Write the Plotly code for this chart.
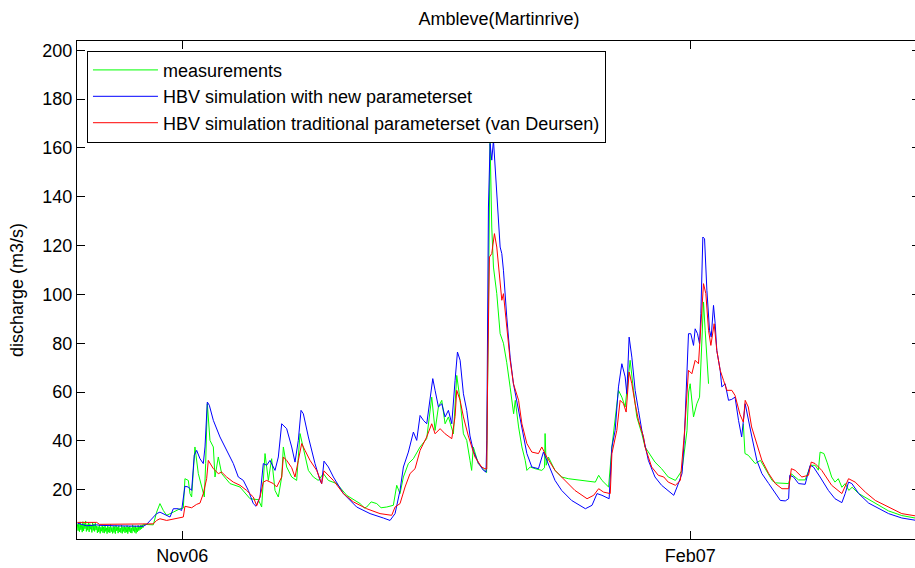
import pandas as pd
import plotly.graph_objects as go

# ---------------- data (days relative to 1 Nov 2006, discharge in m3/s) ----------------
BASE = pd.Timestamp("2006-11-01")

# dense (3-hourly) measurement segment at the start, 13 Oct 2006 onwards
meas_noise_start = "2006-10-13 00:00"
meas_noise_q = [5.9, 3.2, 6.4, 2.8, 6.8, 3.6, 5.5, 2.6, 6.9, 3.1, 6.2, 4.0, 7.2, 2.9, 5.8, 3.4,
                6.6, 2.7, 6.1, 3.8, 5.4, 2.5, 6.7, 3.3, 5.9, 2.9, 6.3, 3.5,
                5.2, 2.3, 4.9, 2.7, 5.6, 2.1, 4.6, 3.0, 5.3, 2.4, 4.8, 2.2, 5.5, 2.9, 4.4, 2.0,
                5.1, 2.6, 4.7, 2.3, 5.7, 2.8, 4.5, 2.1, 5.0, 2.5, 4.9, 2.0, 5.4, 3.1, 4.6, 2.2,
                5.2, 2.7, 4.3, 2.4, 5.5, 2.1, 4.8, 2.9, 5.0, 2.3, 4.6, 2.6, 5.3, 2.0, 4.7, 2.8,
                5.1, 2.4, 4.4, 2.2, 5.6, 3.0, 4.9, 2.5, 5.2, 2.1, 4.5, 2.7, 5.4, 3.2, 4.8, 3.6,
                5.5, 4.0, 5.6, 4.4]

meas_day = [-7.07, -6.46, -5.25, -4.65, -4.05, -3.44, -2.84, -1.63, -0.42, 0.18,
            0.48, 1.09, 1.39, 1.69, 2.29, 2.90, 3.50, 3.99, 4.23, 4.53,
            5.01, 5.62, 5.92, 6.52, 7.13, 8.64, 10.45, 12.26, 13.77, 14.37,
            14.98, 15.58, 16.18, 16.79, 17.39, 18.00, 18.30, 18.90, 19.81, 20.71,
            21.32, 21.92, 22.83, 23.73, 24.64, 25.54, 26.45, 27.96, 29.77, 32.19,
            33.0, 33.39, 34.2, 35.21, 36.0, 37.02, 38.22, 38.83, 39.43, 40.04,
            40.94, 41.85, 43.06, 44.26, 45.17, 45.78, 46.38, 46.99, 47.59, 48.19,
            49.10, 49.70, 50.31, 50.91, 51.51, 52.1, 52.4, 52.7, 53.6, 54.5,
            55.1, 55.3, 55.44, 55.74, 56.04, 56.35, 56.95, 57.56, 58.16, 58.76,
            59.37, 60.0, 60.3, 60.9, 61.5, 62.1, 62.4, 63.0, 63.9, 65.1,
            65.6, 65.7, 65.9, 66.3, 67.5, 68.7, 69.9, 71.1, 72.3, 73.5,
            74.8, 75.4, 76.0, 77.2, 77.8, 78.99, 79.6, 80.2, 81.1, 81.71,
            82.31, 83.22, 83.8, 85.6, 86.8, 88.0, 89.3, 90.5, 91.4, 91.7,
            91.97, 92.58, 93.18, 93.67, 94.09, 94.39, 94.69, 95.0, 95.3, 95.4,
            101.6, 101.9, 102.5, 103.75, 104.7, 105.6, 106.8, 107.4, 109.2, 109.8,
            110.3, 111.6, 112.8, 113.8, 114.6, 115.2, 115.5, 116.2, 116.8, 117.6,
            118.2, 118.8, 119.45, 120.05, 120.7, 121.3, 122.5, 124.3, 126.1, 127.9,
            130.3, 132.7]
meas_q = [5.8, 5.8, 5.6, 10.8, 14.3, 11.5, 9.5, 10.8, 12.2, 12.5,
          24.5, 23.8, 18.4, 17.0, 37.5, 26.6, 21.1, 17.0, 30.7, 55.2,
          40.2, 37.5, 25.2, 33.4, 26.6, 22.5, 21.1, 16.3, 15.9, 12.9,
          34.8, 23.8, 32.7, 19.7, 17.0, 25.2, 37.5, 29.3, 25.2, 23.8,
          43.0, 37.5, 27.9, 25.2, 23.8, 26.6, 23.8, 22.5, 17.7, 14.3,
          12.5, 12.9, 15.0, 14.3, 12.6, 12.9, 13.6, 21.8, 18.4, 25.2,
          30.7, 32.7, 37.5, 40.9, 57.9, 44.3, 53.9, 56.6, 47.0, 49.8,
          42.9, 66.8, 56.6, 42.9, 40.2, 32.0, 27.9, 37.5, 30.7, 28.6,
          27.0, 65.0, 108.5, 163.0, 127.6, 111.2, 100.3, 83.9, 80.0, 72.0,
          62.0, 51.1, 56.6, 45.7, 37.5, 32.0, 27.9, 29.3, 28.6, 27.9,
          29.0, 43.0, 30.0, 33.4, 27.9, 25.2, 24.5, 24.1, 23.8, 23.5,
          23.1, 25.9, 23.8, 21.1, 37.5, 60.7, 57.9, 53.9, 73.0, 60.7,
          49.8, 42.9, 37.5, 31.3, 28.6, 25.2, 23.8, 27.9, 44.3, 60.0,
          63.4, 49.8, 55.2, 57.9, 81.2, 96.9, 85.3, 71.6, 63.4, None,
          47.0, 34.8, 34.1, 30.7, 32.0, 28.6, 23.8, 22.8, 22.8, 22.5,
          26.5, 24.0, 24.0, 30.0, 30.0, 28.0, 35.4, 34.8, 31.0, 25.2,
          23.1, 24.5, 21.0, 22.5, 19.7, 21.0, 18.4, 16.0, 13.4, 11.3,
          9.4, 8.4]

new_day = [-19.0, -17.9, -17.3, -15.5, -14.9, -12.0, -10.0, -7.07, -6.46, -4.65,
           -4.05, -3.14, -2.23, -1.63, -0.72, -0.12, 0.48, 1.09, 1.69, 2.17,
           2.60, 3.20, 3.80, 4.11, 4.53, 4.89, 5.62, 6.82, 8.03, 9.24,
           10.14, 11.05, 11.96, 12.86, 13.35, 14.07, 14.67, 15.28, 15.88, 16.79,
           17.39, 18.00, 18.90, 19.81, 20.41, 21.01, 21.50, 21.92, 22.83, 24.03,
           24.94, 25.24, 25.66, 26.45, 27.36, 29.17, 31.58, 34.00, 36.41, 37.62,
           38.53, 39.43, 40.04, 40.94, 41.85, 42.45, 43.06, 43.67, 44.27, 44.87,
           45.36, 45.78, 46.38, 46.99, 47.59, 48.19, 48.80, 49.40, 49.83, 50.31,
           50.91, 51.51, 52.1, 52.7, 53.6, 54.5, 55.0, 55.14, 55.44, 55.74,
           56.04, 56.35, 56.65, 56.95, 57.56, 57.86, 58.16, 58.76, 59.37, 59.97,
           60.9, 61.5, 62.4, 63.3, 64.5, 65.4, 66.3, 67.5, 68.7, 70.5,
           73.0, 74.2, 75.1, 76.0, 77.3, 77.8, 78.39, 78.99, 79.60, 80.20,
           80.50, 80.92, 81.41, 82.01, 82.61, 83.22, 84.4, 85.6, 86.8, 88.0,
           89.0, 89.6, 90.5, 90.9, 91.37, 91.67, 92.09, 92.58, 92.88, 93.3,
           93.67, 93.91, 94.27, 94.58, 95.0, 95.48, 95.78, 96.2, 96.5, 96.8,
           97.41, 97.71, 98.31, 98.92, 99.5, 100.1, 100.73, 101.3, 101.94, 102.5,
           103.15, 104.05, 104.96, 106.2, 107.4, 108.3, 109.2, 109.8, 110.0, 110.7,
           111.6, 112.8, 113.7, 114.3, 115.5, 117.0, 118.2, 119.45, 120.05, 120.66,
           121.26, 122.5, 124.3, 126.1, 127.9, 130.3, 132.7]
new_q = [6.3, 5.6, 5.2, 5.6, 5.4, 5.2, 5.0, 5.0, 5.8, 10.2,
         10.8, 9.8, 8.8, 12.2, 12.2, 11.5, 21.4, 21.1, 19.7, 34.1,
         36.1, 32.7, 30.7, 37.5, 55.9, 54.6, 48.4, 41.6, 36.1, 30.7,
         25.2, 23.8, 19.7, 14.3, 13.2, 17.0, 30.7, 30.0, 32.0, 27.9,
         33.4, 47.0, 45.0, 37.5, 31.3, 40.2, 52.5, 51.1, 41.6, 30.7,
         23.8, 22.5, 31.7, 29.3, 25.2, 18.4, 12.9, 10.2, 8.4, 7.4,
         10.2, 19.7, 29.3, 35.4, 43.6, 40.2, 50.4, 48.4, 47.0, 56.6,
         65.5, 60.7, 53.9, 55.2, 49.8, 52.5, 47.0, 64.8, 76.4, 73.0,
         59.3, 52.5, 42.0, 36.0, 31.0, 28.0, 27.2, 40.0, 135.8, 161.8,
         155.0, 163.2, 152.2, 138.6, 119.4, 116.7, 109.9, 90.7, 74.3, 63.4,
         52.5, 44.3, 34.8, 29.3, 28.6, 35.4, 30.7, 23.8, 19.7, 15.6,
         12.2, 13.6, 18.4, 17.7, 16.3, 37.5, 44.3, 62.1, 71.6, 66.2,
         59.3, 82.5, 74.3, 60.7, 52.5, 44.3, 32.0, 25.2, 21.8, 19.7,
         17.7, 21.1, 26.6, 40.2, 66.2, 83.9, 83.9, 79.1, 85.9, 83.9,
         79.8, 92.1, 123.5, 122.8, 101.7, 85.3, 82.5, 95.5, 88.0, 77.0,
         68.9, 62.1, 63.4, 56.6, 57.0, 57.9, 48.4, 41.6, 55.2, 48.4,
         41.6, 32.0, 26.6, 22.5, 18.4, 15.6, 15.4, 16.3, 25.9, 25.2,
         22.5, 22.2, 30.0, 29.3, 25.2, 19.7, 16.3, 14.7, 18.4, 23.1,
         22.5, 18.4, 14.5, 12.2, 10.2, 8.4, 7.5]

trad_day = [-19.0, -15.5, -15.0, -7.07, -5.25, -4.65, -4.05, -2.84, -1.63, -0.42,
            0.18, 0.48, 1.09, 1.69, 2.60, 3.20, 3.80, 4.11, 4.41, 4.71,
            5.01, 5.62, 6.52, 7.13, 8.03, 9.24, 10.45, 11.65, 12.86, 13.16,
            13.47, 14.07, 14.67, 15.28, 16.49, 17.09, 18.00, 18.30, 18.90, 19.81,
            20.41, 21.01, 21.62, 22.22, 23.13, 24.34, 25.24, 25.66, 26.45, 27.36,
            29.17, 30.98, 33.39, 35.81, 37.92, 38.53, 39.43, 40.34, 41.24, 42.15,
            43.06, 44.26, 45.17, 45.78, 46.69, 47.59, 48.80, 49.40, 49.70, 50.31,
            50.91, 51.8, 53.0, 54.2, 54.8, 55.14, 55.26, 55.62, 56.04, 56.53,
            56.95, 57.56, 57.86, 58.16, 58.76, 59.37, 59.97, 60.9, 61.5, 62.4,
            63.3, 64.5, 65.1, 66.0, 67.5, 69.3, 71.1, 73.3, 74.5, 75.4,
            76.3, 77.5, 77.8, 78.69, 79.29, 79.90, 80.38, 80.92, 81.41, 82.01,
            82.61, 83.52, 83.8, 85.0, 86.2, 87.2, 88.0, 89.3, 90.2, 90.97,
            91.67, 92.28, 92.88, 93.48, 94.09, 94.39, 94.81, 95.3, 95.72, 96.32,
            96.8, 97.41, 98.01, 98.62, 99.52, 100.1, 101.0, 101.6, 101.94, 102.5,
            103.1, 104.05, 104.96, 106.2, 107.4, 108.6, 109.8, 110.3, 111.0, 112.2,
            113.4, 113.9, 114.6, 115.8, 117.6, 119.45, 120.66, 121.86, 123.7, 125.5,
            127.9, 130.3, 132.7]
trad_q = [6.6, 6.6, 5.8, 5.8, 6.0, 7.4, 8.1, 7.4, 8.0, 8.5,
          8.8, 13.2, 12.9, 12.6, 14.0, 14.5, 18.4, 21.1, 24.5, 32.0,
          30.9, 28.6, 26.6, 27.2, 25.2, 23.1, 21.8, 19.7, 17.0, 15.4,
          13.4, 17.0, 23.1, 23.8, 22.5, 21.1, 25.2, 33.4, 32.0, 29.0,
          25.2, 32.0, 38.9, 36.1, 32.0, 27.9, 22.5, 27.7, 25.9, 23.8,
          18.4, 15.0, 12.2, 10.2, 9.5, 12.9, 14.3, 21.1, 26.6, 28.6,
          36.1, 41.6, 47.0, 42.9, 45.0, 42.9, 40.9, 50.0, 60.7, 56.6,
          49.8, 42.0, 33.4, 29.3, 28.6, 28.5, 60.0, 115.3, 116.7, 124.9,
          119.4, 104.4, 97.6, 100.3, 86.6, 73.0, 63.4, 56.6, 47.0, 38.9,
          35.4, 34.8, 37.5, 33.4, 27.9, 23.8, 19.7, 16.3, 17.7, 20.4,
          19.0, 18.4, 34.8, 44.3, 56.6, 55.2, 51.8, 68.2, 63.4, 55.2,
          48.4, 41.6, 37.5, 29.3, 25.9, 25.2, 23.1, 21.8, 23.8, 44.3,
          68.9, 67.5, 73.0, 71.6, 96.2, 104.4, 100.3, 85.3, 79.1, 88.0,
          77.0, 68.9, 64.8, 60.7, 60.7, 58.6, 50.8, 47.7, 56.6, 53.9,
          45.7, 38.9, 32.0, 26.6, 22.5, 20.4, 20.4, 28.6, 27.9, 25.2,
          25.9, 31.3, 30.7, 27.9, 21.8, 18.4, 24.5, 23.1, 19.0, 15.6,
          12.9, 10.2, 9.3]

series_names = ["measurements",
                "HBV simulation with new parameterset",
                "HBV simulation traditional parameterset (van Deursen)"]
series_colors = ["#00ff00", "#0000ff", "#ff0000"]

x_range_days = [-19.07, 132.69]
tick_dates = ["2006-11-01", "2007-02-01"]
tick_text = ["Nov06", "Feb07"]
y_ticks = [20, 40, 60, 80, 100, 120, 140, 160, 180, 200]
y_range = [-0.2, 203.8]


def to_dates(days):
    return [BASE + pd.Timedelta(days=d) for d in days]


meas_x = list(pd.date_range(meas_noise_start, periods=len(meas_noise_q), freq="3h")) + to_dates(meas_day)
meas_y = meas_noise_q + meas_q

FONT = "Liberation Sans, Arial, Helvetica, sans-serif"

fig = go.Figure()
xs = [meas_x, to_dates(new_day), to_dates(trad_day)]
ys = [meas_y, new_q, trad_q]
for i in range(3):
    fig.add_trace(go.Scatter(x=xs[i], y=ys[i], mode="lines", name=series_names[i],
                             legendgroup=f"g{i}",
                             line=dict(color=series_colors[i], width=1),
                             connectgaps=False))

# empty helper trace so the mirrored right-hand tick axis is drawn
fig.add_trace(go.Scatter(x=[None], y=[None], yaxis="y2", mode="lines",
                         showlegend=False, hoverinfo="skip"))

xr = [str(d) for d in to_dates(x_range_days)]

fig.update_layout(
    width=915, height=568,
    margin=dict(l=77, r=0, t=41, b=29),
    paper_bgcolor="white", plot_bgcolor="white",
    font=dict(family=FONT, size=18, color="black"),
    title=dict(text="Ambleve(Martinrive)", x=0.5036, xref="paper", xanchor="center",
               y=1 - 19 / 568, yref="container", yanchor="middle",
               font=dict(family=FONT, size=18, color="black")),
    showlegend=True,
    legend=dict(x=0.0119, y=0.9805, xanchor="left", yanchor="top",
                bgcolor="white", bordercolor="black", borderwidth=1,
                font=dict(family=FONT, size=18, color="black"),
                itemwidth=65, tracegroupgap=3, traceorder="normal"),
    xaxis=dict(type="date", range=xr, tickvals=tick_dates, ticktext=tick_text,
               showgrid=False, zeroline=False, showline=True, linecolor="black",
               linewidth=1, mirror="ticks", ticks="inside", ticklen=8,
               tickcolor="black", tickfont=dict(size=18)),
    yaxis=dict(range=y_range, tickvals=y_ticks, showgrid=False, zeroline=False,
               showline=True, linecolor="black", linewidth=1, mirror=False,
               ticks="inside", ticklen=8, tickcolor="black", tickfont=dict(size=18),
               title=dict(text="discharge (m3/s)", font=dict(size=18), standoff=14)),
    yaxis2=dict(range=y_range, tickvals=y_ticks, overlaying="y", side="right",
                showgrid=False, zeroline=False, showline=False, ticks="inside",
                ticklen=3, tickcolor="black", showticklabels=False),
)

fig.write_html("out.html")
